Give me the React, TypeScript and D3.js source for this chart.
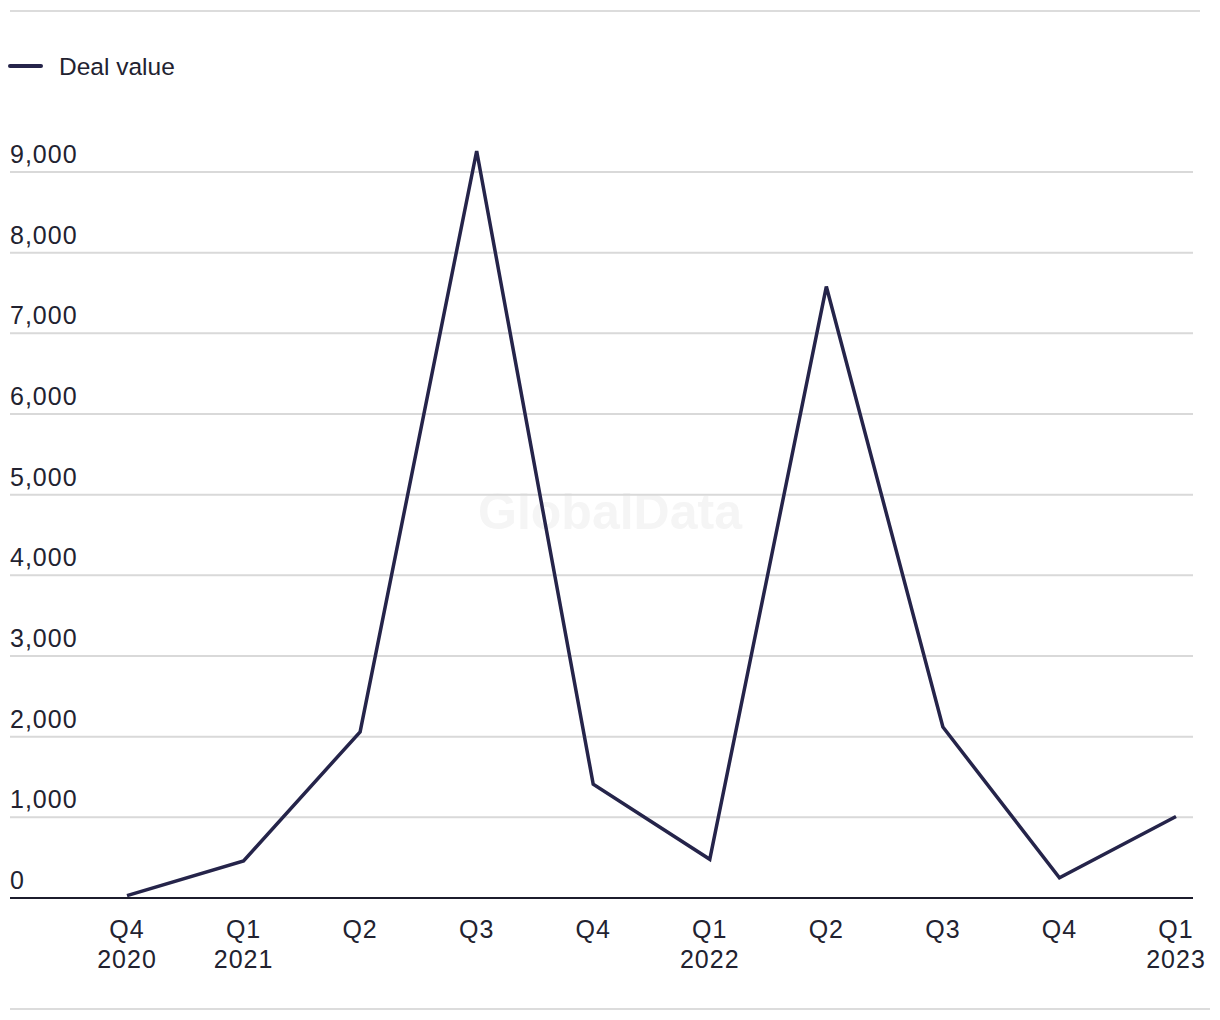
import React from "react";
import * as d3 from "d3";

const quarters = ["Q4", "Q1", "Q2", "Q3", "Q4", "Q1", "Q2", "Q3", "Q4", "Q1"];
const years = ["2020", "2021", "", "", "", "2022", "", "", "", "2023"];
const dealValue = [30, 460, 2060, 9260, 1410, 480, 7580, 2120, 250, 1010];
const yTicks = [0, 1000, 2000, 3000, 4000, 5000, 6000, 7000, 8000, 9000];
const seriesName = "Deal value";

const W = 1220;
const H = 1020;
const FONT = "'Liberation Sans', Arial, sans-serif";
const LINE = "#25244a";
const TEXT = "#222230";

export default function App() {
  const idx = quarters.map((_, i) => i);
  const x = d3.scalePoint<number>().domain(idx).range([127, 1176]);
  const y = d3.scaleLinear().domain([0, 9000]).range([898, 172]);
  const line = d3
    .line<number>()
    .x((_, i) => x(i) as number)
    .y((d) => y(d));
  const fmt = d3.format(",");

  return (
    <div style={{ position: "absolute", left: 0, top: 0 }}>
      <svg width={W} height={H} style={{ display: "block", fontFamily: FONT }}>
        <rect width={W} height={H} fill="#fff" />
        <line x1={10} x2={1200} y1={11} y2={11} stroke="#dcdcdc" strokeWidth={2} />
        <line x1={10} x2={1210} y1={1009} y2={1009} stroke="#dcdcdc" strokeWidth={2} />

        {/* legend */}
        <line x1={10} x2={41} y1={66} y2={66} stroke={LINE} strokeWidth={4} strokeLinecap="round" />
        <text x={59} y={75} fontSize={24.5} fill={TEXT}>{seriesName}</text>

        {/* watermark */}
        <text x={610} y={529} fontSize={50} fontWeight="bold" fill="#f5f5f5" textAnchor="middle">GlobalData</text>

        {/* grid + y ticks */}
        {yTicks.map((t) => (
          <g key={t}>
            {t !== 0 && (
              <line x1={10} x2={1193} y1={y(t)} y2={y(t)} stroke="#d9d9d9" strokeWidth={2} />
            )}
            <text x={10} y={y(t) - 9} fontSize={25} letterSpacing={1} fill={TEXT}>{fmt(t)}</text>
          </g>
        ))}

        {/* series */}
        <path d={line(dealValue) || ""} fill="none" stroke={LINE} strokeWidth={3.5} strokeLinejoin="miter" />

        {/* baseline */}
        <line x1={10} x2={1193} y1={y(0)} y2={y(0)} stroke="#1c1c2c" strokeWidth={2} />

        {/* x labels */}
        {quarters.map((q, i) => (
          <g key={i}>
            <text x={x(i)} y={938} fontSize={25} letterSpacing={1} fill={TEXT} textAnchor="middle">{q}</text>
            {years[i] && (
              <text x={x(i)} y={968} fontSize={25} letterSpacing={1} fill={TEXT} textAnchor="middle">{years[i]}</text>
            )}
          </g>
        ))}
      </svg>
    </div>
  );
}
